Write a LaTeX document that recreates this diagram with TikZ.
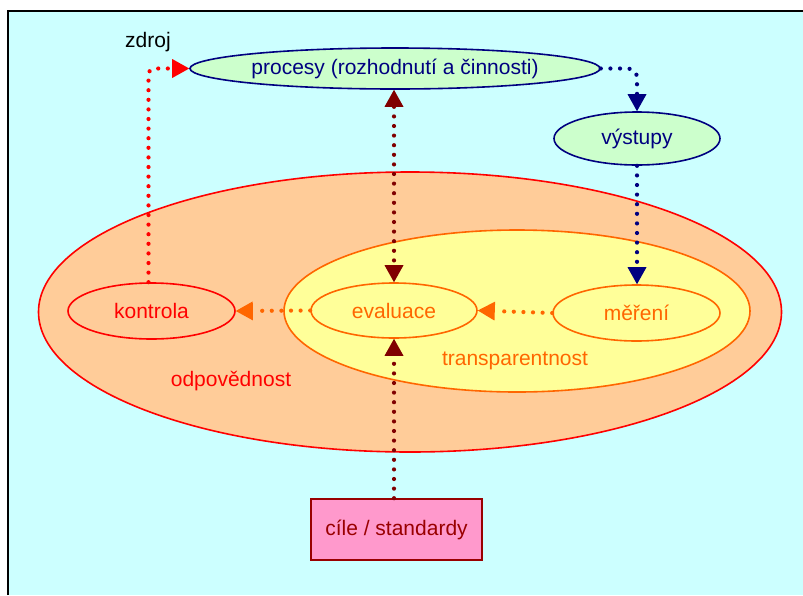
\documentclass[tikz,border=0pt]{standalone}
\usepackage{fontspec}
\setmainfont{Liberation Sans}
\usetikzlibrary{shapes.geometric,arrows.meta}

\definecolor{bgcyan}{HTML}{CCFFFF}
\definecolor{lgreen}{HTML}{CCFFCC}
\definecolor{navyblue}{HTML}{000080}
\definecolor{peach}{HTML}{FFCC99}
\definecolor{lyellow}{HTML}{FFFF99}
\definecolor{dorange}{HTML}{FF6600}
\definecolor{pinkbox}{HTML}{FF99CC}
\definecolor{darkred}{HTML}{990000}
\definecolor{maroon}{HTML}{800000}

\begin{document}
\begin{tikzpicture}[x=1pt,y=-1pt,semithick,
  font=\fontsize{21}{24}\selectfont,
  >={Triangle[width=19pt,length=17pt,line width=0pt]},
  oval/.style={ellipse,draw,line width=1.6pt,inner sep=0pt},
  dotline/.style={line width=4.2pt,line cap=round,dash pattern=on 0pt off 9.6pt}]
  \useasboundingbox (0,0) rectangle (803,595);
  \fill[bgcyan] (8,11) rectangle (803,595);
  \draw[line width=2pt] (8,595) -- (8,11) -- (803,11);

  % regions
  \node[oval,red,fill=peach,minimum width=743pt,minimum height=280pt] (odp) at (410,312) {};
  \node[oval,dorange,fill=lyellow,minimum width=466pt,minimum height=162pt] (transp) at (517,311) {};
  \node[red] (odplbl) at (231,381) {odpovědnost};
  \node[dorange] (transplbl) at (515,361) {transparentnost};

  % nodes
  \node[oval,navyblue,fill=lgreen,minimum width=410pt,minimum height=41pt] (proc) at (395,68.5) {procesy (rozhodnutí a činnosti)};
  \node[oval,navyblue,fill=lgreen,minimum width=166pt,minimum height=53pt] (vys) at (637,138.5) {výstupy};
  \node[oval,red,minimum width=167pt,minimum height=56pt] (kon) at (151.5,311) {kontrola};
  \node[oval,dorange,minimum width=166pt,minimum height=55pt] (eva) at (394,310.5) {evaluace};
  \node[oval,dorange,minimum width=167pt,minimum height=56pt] (mer) at (636.5,313) {měření};
  \node[draw,darkred,fill=pinkbox,line width=1.6pt,minimum width=171pt,minimum height=61pt,inner sep=0pt] (cil) at (396.5,529.5) {cíle / standardy};
  \node (zdroj) at (148,42) {zdroj};

  % connectors
  \draw[dotline,red,rounded corners=6pt,->] ([xshift=-3pt]kon.north) |- (proc.west);
  \draw[dotline,navyblue,rounded corners=9pt,->] (proc.east) -| (vys.north);
  \draw[dotline,navyblue,->] (vys.south) -- (vys.south |- mer.north);
  \draw[dotline,maroon,<->] (eva.north |- proc.south) -- (eva.north);
  \draw[dotline,maroon,->] (eva.south |- cil.north) -- (eva.south);
  \draw[dotline,dorange,->] (mer.west) -- (eva.east);
  \draw[dotline,dorange,->] (eva.west) -- (kon.east);
\end{tikzpicture}
\end{document}
